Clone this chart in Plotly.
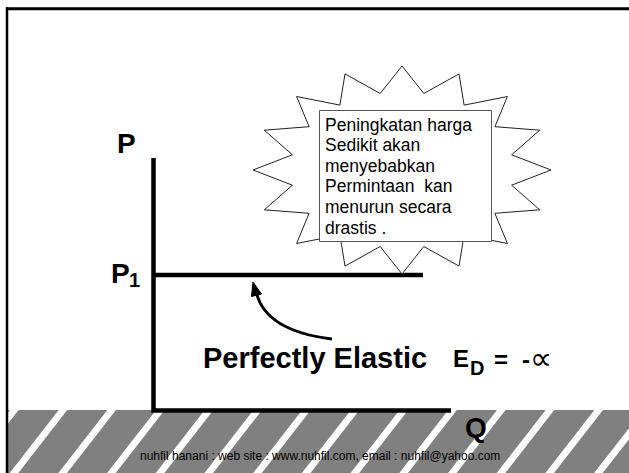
import math
import plotly.graph_objects as go

# ---------------- data ----------------
quantity_axis = [0, 10]          # Q axis extent
price_axis = [0, 10]             # P axis extent
p1_level = 5.37                  # price level P1 (perfectly elastic demand)
demand_q = [0, 9.06]
demand_p = [p1_level, p1_level]

callout_lines = [
    "Peningkatan harga",
    "Sedikit akan",
    "menyebabkan",
    "Permintaan  kan",
    "menurun secara",
    "drastis .",
]
title_text = "Perfectly Elastic"
elastic_parts = ["E", "D", "=", "-", "∝"]
footer_text = "nuhfil hanani : web site : www.nuhfil.com, email : nuhfil@yahoo.com"

# ---------------- canvas helpers ----------------
W, H = 629, 473
FONT = "Liberation Sans, Arial, Helvetica, sans-serif"


def py(y):
    return 1 - y / H


def px(x):
    return x / W


fig = go.Figure()

# economic chart axes (x2/y2): Q=0 at x=153.5, Q=10 at x=451 ; P=0 at y=410.5, P=10 at y=158
ux = (451 - 153.5) / 10
uy = (410.5 - 158) / 10
x2_range = [-1, 10.5]
y2_range = [-1, 10.5]
x2_dom = [px(153.5 - 1 * ux), px(451 + 0.5 * ux)]
y2_dom = [py(410.5 + 1 * uy), py(158 - 0.5 * uy)]

# axes of the diagram
fig.add_trace(go.Scatter(
    x=[quantity_axis[0], quantity_axis[0], quantity_axis[1]],
    y=[price_axis[1], price_axis[0], price_axis[0]],
    mode="lines", line=dict(color="black", width=4.5),
    xaxis="x2", yaxis="y2", hoverinfo="skip", showlegend=False))
# demand curve at P1
fig.add_trace(go.Scatter(
    x=demand_q, y=demand_p, mode="lines",
    line=dict(color="black", width=4.5),
    xaxis="x2", yaxis="y2", hoverinfo="skip", showlegend=False))

shapes = []
# footer band with stripes
shapes.append(dict(type="rect", xref="x", yref="y", x0=8, x1=W, y0=410, y1=H,
                   fillcolor="#808080", line=dict(width=0), layer="below"))
for k in range(-1, 14):
    t = 63 + 48.7 * k
    b = t - 49
    hw = 4.3
    shapes.append(dict(
        type="path", xref="x", yref="y", layer="below",
        path=f"M {t-hw:.1f} 410 L {t+hw:.1f} 410 L {b+hw:.1f} {H} L {b-hw:.1f} {H} Z",
        fillcolor="white", line=dict(width=0)))
# slide border (top + left)
shapes.append(dict(type="line", xref="x", yref="y", x0=6, x1=W, y0=8.7, y1=8.7,
                   line=dict(color="black", width=3)))
shapes.append(dict(type="line", xref="x", yref="y", x0=7, x1=7, y0=7.2, y1=H,
                   line=dict(color="black", width=2.5)))

# burst (16-point star)
cx, cy, rx, ry, inner = 402, 170, 149, 104, 0.75
pts = []
for i in range(32):
    a = math.radians(i * 11.25)
    r = 1 if i % 2 == 0 else inner
    pts.append((cx + r * rx * math.sin(a), cy - r * ry * math.cos(a)))
path = "M " + " L ".join(f"{x:.1f} {y:.1f}" for x, y in pts) + " Z"
shapes.append(dict(type="path", xref="x", yref="y", path=path,
                   fillcolor="white", line=dict(color="#222222", width=1)))
# callout box
shapes.append(dict(type="rect", xref="x", yref="y", x0=319.5, x1=491.5, y0=110.5, y1=241.5,
                   fillcolor="white", line=dict(color="#555555", width=1)))

# curved arrow
shapes.append(dict(type="path", xref="x", yref="y",
                   path="M 332 339 Q 266 331 256.5 293",
                   line=dict(color="black", width=3)))
shapes.append(dict(type="path", xref="x", yref="y",
                   path="M 253 282 L 261.5 294 L 251.5 296.5 Z",
                   fillcolor="black", line=dict(color="black", width=1)))

annotations = []


def label(text, x, y, size, bold=False, xanchor="center", family=FONT):
    annotations.append(dict(
        text=f"<b>{text}</b>" if bold else text, x=x, y=y, xref="x", yref="y",
        xanchor=xanchor, yanchor="middle", showarrow=False,
        font=dict(family=family, size=size, color="black")))


for i, line in enumerate(callout_lines):
    label(line, 323, 124.5 + 20.6 * i, 17.5, xanchor="left")

label("P", 126.5, 143, 28, bold=True)
label("P", 120.5, 273, 28, bold=True)
label("1", 134.5, 280, 20, bold=True)
label("Q", 476, 427, 28, bold=True)
label(title_text, 201, 358, 29, bold=True, xanchor="left")
label(elastic_parts[0], 460.5, 358.5, 24, bold=True)
label(elastic_parts[1], 477, 367.5, 20, bold=True)
label(elastic_parts[2], 500.5, 359, 24, bold=True)
label(elastic_parts[3], 526, 359, 24, bold=True)
label(elastic_parts[4], 541, 358, 31, family="DejaVu Sans, Liberation Sans, sans-serif")
label(footer_text, 320, 456, 12)

fig.update_layout(
    width=W, height=H, margin=dict(l=0, r=0, t=0, b=0, pad=0),
    paper_bgcolor="white", plot_bgcolor="rgba(0,0,0,0)",
    showlegend=False,
    xaxis=dict(range=[0, W], domain=[0, 1], visible=False, fixedrange=True),
    yaxis=dict(range=[H, 0], domain=[0, 1], visible=False, fixedrange=True),
    xaxis2=dict(range=x2_range, domain=x2_dom, anchor="y2", visible=False, fixedrange=True),
    yaxis2=dict(range=y2_range, domain=y2_dom, anchor="x2", visible=False, fixedrange=True),
    shapes=shapes, annotations=annotations,
)

fig.write_html("out.html", config={"displayModeBar": False},
               post_script="document.body.style.margin='0';document.body.style.overflow='hidden';")
